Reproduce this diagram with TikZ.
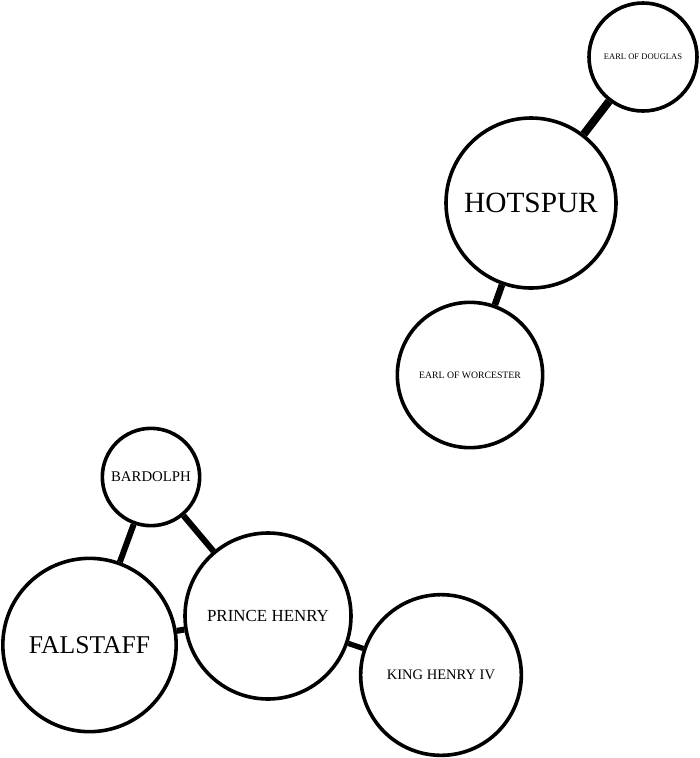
\documentclass[tikz,border=0pt]{standalone}
\usepackage{fontspec}
\setmainfont{Liberation Serif}
\usepackage{tikz}
\usetikzlibrary{positioning}
\tikzset{
    person/.style={
        circle,
        draw=black,
        fill=white,
        line width=2.7pt,
        inner sep=0pt,
        align=center
    },
    link/.style={
        draw,
        line width=4.5pt,
        color=black
    }
}

\begin{document}
\begin{tikzpicture}[x=0.75pt, y=-0.75pt]

    \useasboundingbox (0,0) rectangle (700,758);

    % Rebels
    \node (douglas) [person, minimum size=81pt, font=\fontsize{6.4}{7}\selectfont] at (643,57) {EARL OF DOUGLAS};
    \node (hotspur) [person, minimum size=127.5pt, font=\fontsize{22}{26}\selectfont] at (531,203) {HOTSPUR};
    \node (worcester) [person, minimum size=109pt, font=\fontsize{7.3}{8}\selectfont] at (470,375) {EARL OF WORCESTER};

    % Tavern and court
    \node (bardolph) [person, minimum size=73pt, font=\fontsize{11.1}{13}\selectfont] at (151,477) {BARDOLPH};
    \node (falstaff) [person, minimum size=130pt, font=\fontsize{19.2}{23}\selectfont] at (89.5,645) {FALSTAFF};
    \node (prince) [person, minimum size=124.5pt, font=\fontsize{12.7}{15}\selectfont] at (268,616) {PRINCE HENRY};
    \node (king) [person, minimum size=120.5pt, font=\fontsize{10.9}{13}\selectfont] at (441,675) {KING HENRY IV};

    % Connections
    \draw [link, line width=6pt] (douglas) -- (hotspur);
    \draw [link, line width=5pt] (hotspur) -- (worcester);
    \draw [link] (bardolph) -- (falstaff);
    \draw [link] (bardolph) -- (prince);
    \draw [link] (falstaff) -- (prince);
    \draw [link, line width=4pt] (prince) -- (king);

\end{tikzpicture}
\end{document}
